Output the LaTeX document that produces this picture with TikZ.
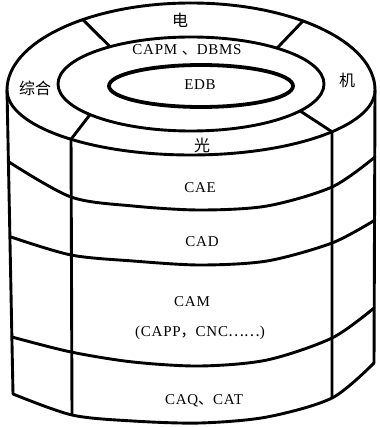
\documentclass[tikz,border=0pt]{standalone}
\usepackage{fontspec}
\setmainfont[LetterSpace=5]{Liberation Serif}
\newfontfamily\cjk{Noto Sans CJK SC}
\begin{document}
\begin{tikzpicture}
  [x=1pt,y=1pt,yscale=-1,
   wall/.style={line width=2.9pt,line join=round,line cap=round},
   core/.style={line width=3.8pt},
   lbl/.style={font=\fontsize{15}{15}\selectfont,inner sep=0pt},
   zh/.style={font=\fontsize{16}{16}\selectfont\cjk,inner sep=0pt}
  ]
  \useasboundingbox (0,0) rectangle (379,427);

  \coordinate (O) at (191,90);
  \coordinate (M) at (191,84);
  \path (O) ++(-126:184 and 87) coordinate (otl)
        (O) ++(-52.5:184 and 87) coordinate (otr)
        (O) ++(130.7:184 and 65) coordinate (obl)
        (O) ++(40:184 and 65) coordinate (obr);
  \path (M) ++(-127.5:133 and 47) coordinate (mtl)
        (M) ++(-49.7:133 and 47) coordinate (mtr)
        (M) ++(139.4:133 and 47) coordinate (mbl)
        (M) ++(34.9:133 and 47) coordinate (mbr);
  \coordinate (lt) at (7,90);
  \coordinate (rt) at (375,90);
  \coordinate (lb) at (13,394);
  \coordinate (rb) at (374,363);
  \coordinate (vlb) at (72,415);
  \coordinate (vrb) at (332,398);

  \draw[wall] (lt) arc[start angle=180,end angle=360,x radius=184,y radius=87]
              arc[start angle=0,end angle=180,x radius=184,y radius=65];
  \draw[wall] (M) ellipse[x radius=133,y radius=47];
  \draw[core] (201,86) ellipse[x radius=92,y radius=21];
  \draw[wall] (mtl) -- (otl) (mtr) -- (otr) (mbl) -- (obl) (mbr) -- (obr);

  \draw[wall] (lt) -- (lb);
  \draw[wall] (rt) -- (rb);
  \draw[wall] (obl) -- (vlb);
  \draw[wall] (obr) -- (vrb);

  \draw[wall] plot[smooth] coordinates {(9,162) (71,197) (133,206) (200,210) (267,206) (332,187) (375,157)};
  \draw[wall] plot[smooth] coordinates {(11,237) (71,255) (133,261) (200,265) (267,261) (332,243) (375,220)};
  \draw[wall] plot[smooth] coordinates {(12,337) (71,352) (133,362) (200,366) (267,360) (332,338) (374,308)};
  \draw[wall] plot[smooth] coordinates {(lb) (vlb) (133,421) (200,423) (267,417) (vrb) (rb)};

  \node[zh] (dian) at (180,20) {电};
  \node[lbl] (capm) at (187,50) {CAPM {\cjk 、}DBMS};
  \node[lbl] (edb) at (200,85) {EDB};
  \node[zh] (zonghe) at (35,88) {综合};
  \node[zh] (ji) at (347,80) {机};
  \node[zh] (guang) at (202,145) {光};
  \node[lbl] (cae) at (200,188) {CAE};
  \node[lbl] (cad) at (202,242) {CAD};
  \node[lbl] (cam) at (192,302) {CAM};
  \node[lbl] (capp) at (200,333) {(CAPP{\cjk ，}CNC{\cjk ……})};
  \node[lbl] (caq) at (204,401) {CAQ{\cjk 、}CAT};
\end{tikzpicture}
\end{document}
